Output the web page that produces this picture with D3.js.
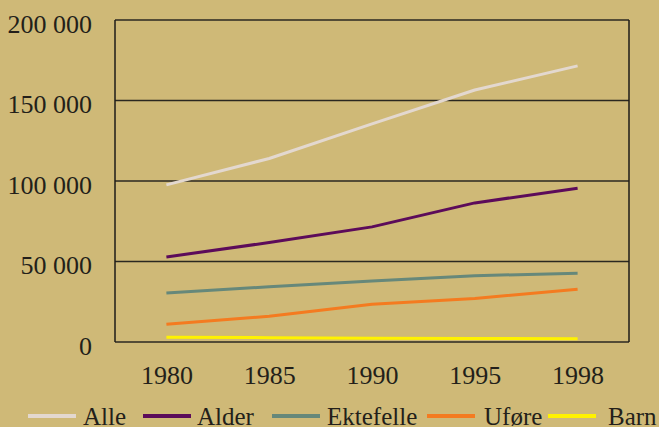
<!DOCTYPE html>
<meta charset="utf-8">
<head>
<style>
body {
  margin: 0;
  background: #cfb977;
}
svg {
  display: block;
}
.tick text, .lbl {
  font-family: "Liberation Serif", "Times New Roman", serif;
  fill: #231f1a;
}
</style>
<script src="https://d3js.org/d3.v7.min.js"></script>
</head>
<body>
<svg width="659" height="427"></svg>
<script>

var years = ["1980", "1985", "1990", "1995", "1998"];
var yTicks = [0, 50000, 100000, 150000, 200000];

var seriesNames = ["Alle", "Alder", "Ektefelle", "Uføre", "Barn"];
var alle      = [97600, 114000, 135500, 156500, 171500];
var alder     = [52800, 61800, 71500, 86400, 95500];
var ektefelle = [30500, 34300, 37900, 41200, 42700];
var ufore     = [11000, 16000, 23500, 27000, 32800];
var barn      = [3000, 2700, 2400, 2200, 2000];
var colors = ["#e3d8cf", "#5c0b5a", "#66887a", "#f47b20", "#fff200"];

var series = [alle, alder, ektefelle, ufore, barn];

var svg = d3.select("svg");
var plotLeft = 115, plotRight = 629, plotTop = 20, plotBottom = 342;

var x = d3.scalePoint()
    .domain(years)
    .range([plotLeft, plotRight])
    .padding(0.5);

var y = d3.scaleLinear()
    .domain([0, 200000])
    .range([plotBottom, plotTop]);

// grid lines
svg.append("g")
  .selectAll("line")
  .data(yTicks)
  .enter().append("line")
    .attr("x1", plotLeft)
    .attr("x2", plotRight)
    .attr("y1", d => y(d))
    .attr("y2", d => y(d))
    .attr("stroke", "#2b2820")
    .attr("stroke-width", 1.5);

// box sides
svg.append("line")
    .attr("x1", plotLeft).attr("x2", plotLeft)
    .attr("y1", plotTop).attr("y2", plotBottom)
    .attr("stroke", "#1e1c18").attr("stroke-width", 1.5);
svg.append("line")
    .attr("x1", plotRight).attr("x2", plotRight)
    .attr("y1", plotTop).attr("y2", plotBottom)
    .attr("stroke", "#1e1c18").attr("stroke-width", 1.5);

var fmt = function(d) {
  return d3.format(",")(d).replace(/,/g, " ");
};

var yAxis = svg.append("g")
    .attr("transform", "translate(" + plotLeft + ",0)")
    .call(d3.axisLeft(y).tickValues(yTicks).tickSize(0).tickPadding(23).tickFormat(fmt));
yAxis.select(".domain").remove();
yAxis.selectAll("text")
    .attr("font-size", 26)
    .attr("dy", "0.48em");

var xAxis = svg.append("g")
    .attr("transform", "translate(0," + plotBottom + ")")
    .call(d3.axisBottom(x).tickSize(0).tickPadding(24));
xAxis.select(".domain").remove();
xAxis.selectAll("text")
    .attr("font-size", 26)
    .attr("dy", "0.71em");

var line = d3.line()
    .x((d, i) => x(years[i]))
    .y(d => y(d));

svg.append("g")
  .selectAll("path")
  .data(series)
  .enter().append("path")
    .attr("d", d => line(d))
    .attr("fill", "none")
    .attr("stroke", (d, i) => colors[i])
    .attr("stroke-width", 3)
    .attr("stroke-linejoin", "round");

// legend
var legendX = [28, 143, 272, 427, 548];
var legendTextX = [83, 197, 327, 484, 608];
var legend = svg.append("g");
seriesNames.forEach(function(name, i) {
  legend.append("line")
      .attr("x1", legendX[i])
      .attr("x2", legendX[i] + 48)
      .attr("y1", 416)
      .attr("y2", 416)
      .attr("stroke", colors[i])
      .attr("stroke-width", 4);
  legend.append("text")
      .attr("class", "lbl")
      .attr("x", legendTextX[i])
      .attr("y", 425)
      .attr("font-size", 25)
      .text(name);
});

</script>
</body>
